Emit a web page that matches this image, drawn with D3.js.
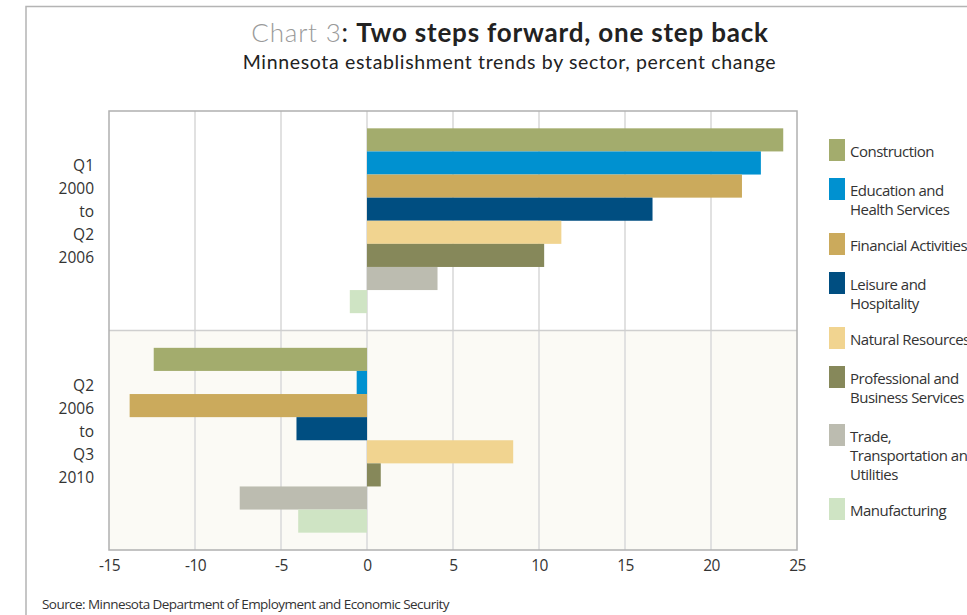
<!DOCTYPE html>
<html>
<head>
<meta charset="utf-8">
<script src="https://cdn.jsdelivr.net/npm/d3@7"></script>
<style>
  html, body { margin: 0; padding: 0; background: #fff; }
  svg { display: block; }
</style>
</head>
<body>
<svg id="chart" width="967" height="615"></svg>
<script>
// ---- Data ----
const sectors = [
  "Construction",
  "Education and Health Services",
  "Financial Activities",
  "Leisure and Hospitality",
  "Natural Resources",
  "Professional and Business Services",
  "Trade, Transportation and Utilities",
  "Manufacturing"
];
const legendLines = [
  ["Construction"],
  ["Education and", "Health Services"],
  ["Financial Activities"],
  ["Leisure and", "Hospitality"],
  ["Natural Resources"],
  ["Professional and", "Business Services"],
  ["Trade,", "Transportation and", "Utilities"],
  ["Manufacturing"]
];
const sectorColors = ["#a3ac6d", "#0091d0", "#cbaa5c", "#004e81", "#f1d490", "#86885a", "#bcbcb0", "#cfe4c4"];
const periods = ["Q1 2000 to Q2 2006", "Q2 2006 to Q3 2010"];
const periodLines = [["Q1", "2000", "to", "Q2", "2006"], ["Q2", "2006", "to", "Q3", "2010"]];
const change2000to2006 = [24.2, 22.9, 21.8, 16.6, 11.3, 10.3, 4.1, -1.0];
const change2006to2010 = [-12.4, -0.6, -13.8, -4.1, 8.5, 0.8, -7.4, -4.0];
const xTicks = [-15, -10, -5, 0, 5, 10, 15, 20, 25];

const series = [change2000to2006, change2006to2010];

// ---- Layout ----
const svg = d3.select("#chart");
const plot = { left: 109, right: 797, top: 111, bottom: 550 };
const labelFont = "'Open Sans', 'Noto Sans', sans-serif";

// outer frame
svg.append("path")
  .attr("d", "M26,1000 L26,6.5 L1000,6.5")
  .attr("fill", "none").attr("stroke", "#b4b4b4").attr("stroke-width", 1.5);

const x = d3.scaleLinear().domain([-15, 25]).range([plot.left, plot.right]);
const yPeriod = d3.scaleBand().domain(periods).range([plot.top, plot.bottom]);
const ySector = d3.scaleBand().domain(sectors).range([0, yPeriod.bandwidth()]).paddingInner(0).paddingOuter(0.75);

// panel backgrounds
svg.selectAll("rect.panel").data(periods).enter().append("rect")
  .attr("class", "panel")
  .attr("x", plot.left).attr("width", plot.right - plot.left)
  .attr("y", d => yPeriod(d)).attr("height", yPeriod.bandwidth())
  .attr("fill", (d, i) => i === 0 ? "#ffffff" : "#fbfaf5");

// gridlines
svg.selectAll("line.grid").data(xTicks.slice(1, -1)).enter().append("line")
  .attr("class", "grid")
  .attr("x1", d => x(d)).attr("x2", d => x(d))
  .attr("y1", plot.top).attr("y2", plot.bottom)
  .attr("stroke", "#e1e1e1").attr("stroke-width", 2);

// bars
periods.forEach((p, pi) => {
  svg.append("g").selectAll("rect").data(series[pi]).enter().append("rect")
    .attr("x", d => x(Math.min(0, d)))
    .attr("width", d => Math.abs(x(d) - x(0)))
    .attr("y", (d, i) => yPeriod(p) + ySector(sectors[i]))
    .attr("height", ySector.bandwidth())
    .attr("fill", (d, i) => sectorColors[i]);
});

// panel divider & border
svg.append("line")
  .attr("x1", plot.left).attr("x2", plot.right)
  .attr("y1", yPeriod(periods[1])).attr("y2", yPeriod(periods[1]))
  .attr("stroke", "#cfcfcf").attr("stroke-width", 1.5);
svg.append("rect")
  .attr("x", plot.left).attr("y", plot.top)
  .attr("width", plot.right - plot.left).attr("height", plot.bottom - plot.top)
  .attr("fill", "none").attr("stroke", "#b0b0b0").attr("stroke-width", 1.5);

// x axis
const xAxis = svg.append("g")
  .attr("transform", `translate(0,${plot.bottom})`)
  .call(d3.axisBottom(x).tickValues(xTicks).tickSize(0).tickPadding(10).tickFormat(d => String(d)));
xAxis.select(".domain").remove();
xAxis.selectAll("text")
  .attr("font-family", labelFont).attr("font-size", 15.5).attr("fill", "#333")
  .style("letter-spacing", "-0.5px");

// period labels
periods.forEach((p, pi) => {
  const cy = yPeriod(p) + yPeriod.bandwidth() / 2 - 9;
  const n = periodLines[pi].length;
  svg.append("g").selectAll("text").data(periodLines[pi]).enter().append("text")
    .attr("x", 94)
    .attr("y", (d, i) => cy + (i - (n - 1) / 2) * 23)
    .attr("dy", "0.35em")
    .attr("text-anchor", "end")
    .attr("font-family", labelFont).attr("font-size", 15.5).attr("fill", "#333")
    .text(d => d);
});

// legend
const legendTops = [139, 178, 233, 272, 327, 366, 424, 498];
const legend = svg.append("g");
sectors.forEach((s, i) => {
  const g = legend.append("g").attr("transform", `translate(829,${legendTops[i]})`);
  g.append("rect").attr("width", 16).attr("height", 22).attr("fill", sectorColors[i]);
  g.selectAll("text").data(legendLines[i]).enter().append("text")
    .attr("x", 21).attr("y", (d, j) => 12.5 + j * 19).attr("dy", "0.35em")
    .attr("font-family", labelFont).attr("font-size", 15).attr("fill", "#333")
    .style("letter-spacing", "-0.5px")
    .text(d => d);
});

// title
const title = svg.append("text")
  .attr("x", 510).attr("y", 42).attr("text-anchor", "middle")
  .attr("font-family", "Lato, 'DejaVu Sans', sans-serif").attr("font-size", 26)
  .style("letter-spacing", "0.8px");
title.append("tspan").attr("fill", "#9a9a9a").attr("font-weight", 300).text("Chart 3");
title.append("tspan").attr("fill", "#222").attr("font-weight", 400).text(": ");
title.append("tspan").attr("fill", "#222").attr("font-weight", 700).text("Two steps forward, one step back");

svg.append("text")
  .attr("x", 509.5).attr("y", 69).attr("text-anchor", "middle")
  .attr("font-family", "Lato, 'DejaVu Sans', sans-serif").attr("font-size", 19.5).attr("fill", "#222")
  .style("letter-spacing", "0.65px")
  .text("Minnesota establishment trends by sector, percent change");

svg.append("text")
  .attr("x", 42).attr("y", 609)
  .attr("font-family", labelFont).attr("font-size", 13.5).attr("fill", "#333")
  .style("letter-spacing", "-0.55px")
  .text("Source: Minnesota Department of Employment and Economic Security");
</script>
</body>
</html>
